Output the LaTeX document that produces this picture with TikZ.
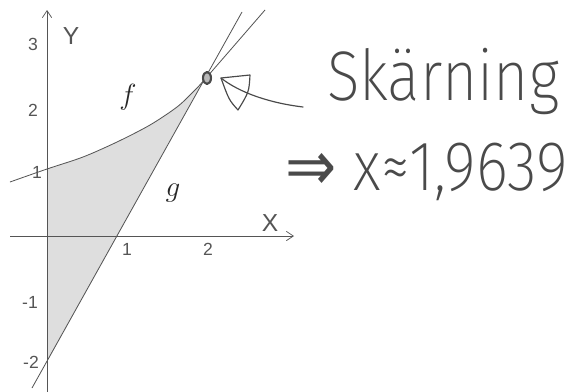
\documentclass[tikz,border=0pt]{standalone}
\usepackage{fontspec}
\setsansfont{Liberation Sans}
\newfontfamily\handfont{Fira Sans}[UprightFont=* ExtraLight]
\newfontfamily\symfont{DejaVu Sans}
\usepackage{graphicx}
\usepackage{xcolor}
\usepackage{tikz}
\usetikzlibrary{arrows.meta}
\definecolor{linegray}{HTML}{555555}
\definecolor{areagray}{HTML}{DEDEDE}
\definecolor{pengray}{HTML}{4A4A4A}

\begin{document}
\begin{tikzpicture}[x=0.03cm, y=-0.03cm,
        axis/.style={draw=linegray, line width=0.6pt, -{Straight Barb[length=6pt,width=8pt]}},
        graph/.style={draw=linegray, line width=0.7pt},
        tick/.style={font=\sffamily\fontsize{15}{15}\selectfont, text=linegray, inner sep=0pt},
        axlabel/.style={font=\sffamily\fontsize{21}{21}\selectfont, text=linegray, inner sep=0pt},
        fname/.style={font=\fontsize{26}{26}\selectfont, text=black!85, inner sep=0pt},
        pen/.style={draw=pengray, line width=1pt, line cap=round, line join=round},
        hand/.style={font=\handfont\fontsize{60}{60}\selectfont, text=pengray, inner sep=0pt, anchor=base west}]
        \useasboundingbox (0,0) rectangle (582,392);
        \begin{scope}
            \clip plot[smooth] coordinates {(10,182) (47,169) (83,157) (117,142) (150,125) (177,107) (193,92) (206,78) (265,10)} -- (265,392) -- (10,392) -- cycle;
            \fill[areagray] (47,362) -- (205,78) -- (205,0) -- (47,0) -- cycle;
        \end{scope}
        \draw[axis] (10,236) -- (294,236);
        \draw[axis] (47,392) -- (47,10);
        \draw[graph] (32,388) -- (242,12);
        \draw[graph] plot[smooth] coordinates {(10,182) (47,169) (83,157) (117,142) (150,125) (177,107) (193,92) (206,78) (265,10)};
        \node[axlabel] (xlab) at (270,223) {X};
        \node[axlabel] (ylab) at (71,36) {Y};
        \node[tick] (x1) at (127,249) {1};
        \node[tick] (x2) at (208,249) {2};
        \node[tick] (y3) at (33,44) {3};
        \node[tick] (y2) at (33,110) {2};
        \node[tick] (y1) at (37,172) {1};
        \node[tick] (ym1) at (30,302) {-1};
        \node[tick] (ym2) at (31,362) {-2};
        \node[fname] (flab) at (128,97) {$f$};
        \node[fname] (glab) at (173,193) {$g$};
        \coordinate (cut) at (207,78);
        \draw[pen, line width=1.8pt, fill=gray!55] (cut) ellipse [x radius=4, y radius=6];
        \coordinate (tip) at (221,78);
        \coordinate (penstart) at (303,107);
        \draw[pen] (penstart) .. controls (270,103) and (240,93) .. (tip);
        \draw[pen] (tip) -- (250,75) .. controls (249,92) .. (238,110) .. controls (229,100) .. (tip);
        \node[hand] (cutlabel) at (327,100) {\scalebox{0.86}[1]{Skärning}};
        \node[hand] (result) at (285,190) {\scalebox{0.87}[1]{{\symfont ⇒} x≈1,9639}};
    \end{tikzpicture}
\end{document}
